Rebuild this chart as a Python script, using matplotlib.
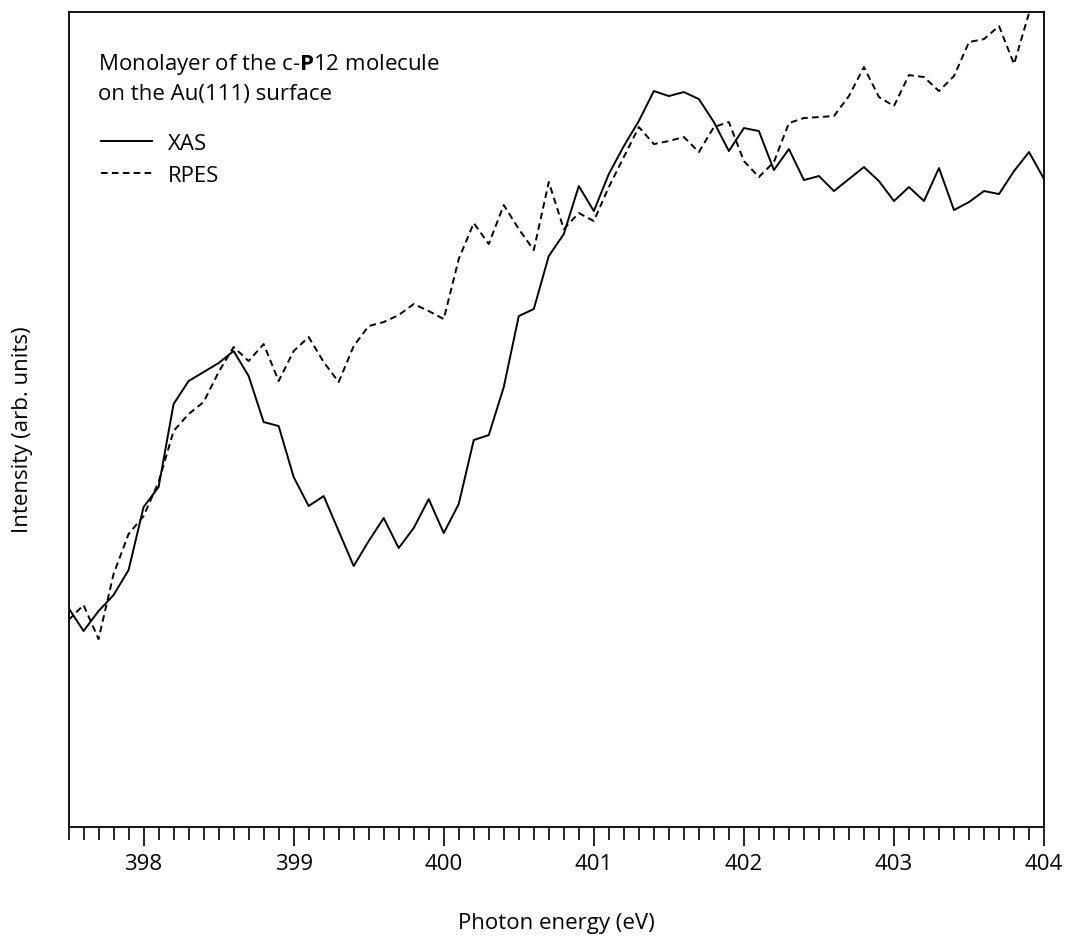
import numpy as np
import matplotlib
matplotlib.use("Agg")
import matplotlib.pyplot as plt
from matplotlib.ticker import MultipleLocator

plt.rcParams['font.family'] = ['Open Sans', 'DejaVu Sans']
plt.rcParams['mathtext.fontset'] = 'custom'
plt.rcParams['mathtext.rm'] = 'Open Sans'
plt.rcParams['mathtext.bf'] = 'Open Sans:bold'

# photon energy grid (eV), 0.1 eV steps
energy_xas = 397.5 + 0.1 * np.arange(66)
energy_rpes = 397.5 + 0.1 * np.arange(65)

# intensities (arb. units)
xas = [219, 196, 216, 232, 257, 320, 340, 423, 446, 455,
       464, 476, 451, 405, 401, 350, 321, 331, 296, 261,
       286, 309, 279, 299, 328, 294, 323, 387, 392, 440,
       511, 518, 571, 593, 641, 616, 653, 681, 706, 736,
       731, 735, 728, 705, 676, 699, 696, 657, 678, 647,
       651, 636, 648, 660, 646, 626, 640, 626, 659, 617,
       625, 636, 633, 656, 675, 648]
rpes = [207, 222, 188, 253, 293, 311, 345, 396, 413, 425,
        455, 480, 466, 483, 446, 476, 490, 465, 445, 481,
        501, 505, 512, 523, 516, 508, 568, 604, 583, 622,
        598, 577, 645, 598, 614, 606, 640, 670, 700, 683,
        686, 690, 675, 700, 705, 666, 650, 665, 704, 709,
        710, 711, 731, 760, 730, 721, 752, 750, 736, 751,
        785, 788, 801, 763, 814]

FS = 16

fig = plt.figure(figsize=(10.66, 9.37), dpi=100)
ax = fig.add_axes([0.0643, 0.1163, 0.9151, 0.8703])

ax.plot(energy_xas, xas, color='black', lw=1.4, label='XAS')
ax.plot(energy_rpes, rpes, color='black', lw=1.4, ls=(0, (3.4, 2.2)), label='RPES')

ax.set_xlim(397.5, 404)
ax.set_ylim(0, 815.5)
ax.set_yticks([])
ax.xaxis.set_major_locator(MultipleLocator(1))
ax.xaxis.set_minor_locator(MultipleLocator(0.1))
ax.tick_params(axis='x', which='major', direction='out', length=14, width=1.2,
               labelsize=FS, pad=5)
ax.tick_params(axis='x', which='minor', direction='out', length=9.5, width=1.2)
for sp in ax.spines.values():
    sp.set_linewidth(1.3)

ax.set_xlabel('Photon energy (eV)', fontsize=FS, labelpad=27)
ax.set_ylabel('Intensity (arb. units)', fontsize=FS)
ax.yaxis.set_label_coords(-0.036, 0.489)

# annotation
ax.text(0.0305, 0.9295, r'Monolayer of the c-$\mathbf{P}$12 molecule',
        transform=ax.transAxes, fontsize=FS, va='baseline')
ax.text(0.0305, 0.8927, 'on the Au(111) surface',
        transform=ax.transAxes, fontsize=FS, va='baseline')

ax.legend(loc='upper left', bbox_to_anchor=(0.0333, 0.851), frameon=False,
          fontsize=FS, handlelength=2.3, handletextpad=0.7,
          labelspacing=0.47, borderpad=0, borderaxespad=0)

fig.savefig('out.png', dpi=100)
